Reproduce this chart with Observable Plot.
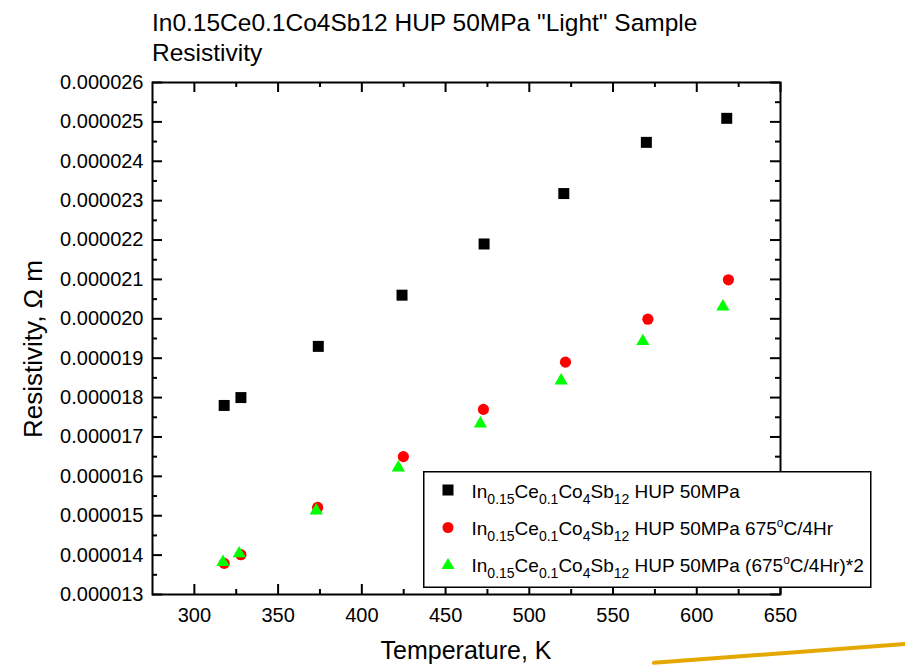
<!DOCTYPE html>
<html><head><meta charset="utf-8">
<script src="https://cdn.jsdelivr.net/npm/d3@7"></script>
<script src="https://cdn.jsdelivr.net/npm/@observablehq/plot@0.6"></script>
<style>
html,body{margin:0;padding:0;background:#fff;}
body{font-family:"Liberation Sans",Arial,Helvetica,sans-serif;color:#000;}
#wrap{position:relative;width:905px;height:665px;overflow:hidden;background:#fff;}
#chart{position:absolute;left:0;top:0;}
#title{position:absolute;left:152px;top:8px;font-size:24.5px;line-height:30px;white-space:nowrap;}
#xlabel{position:absolute;left:0;width:932px;text-align:center;top:636px;font-size:25px;line-height:28px;white-space:nowrap;}
#ylabel{position:absolute;left:33px;top:349px;font-size:26px;line-height:28px;white-space:nowrap;transform:translate(-50%,-50%) rotate(-90deg);}
#legend{position:absolute;left:423px;top:471px;}
#streak{position:absolute;left:652px;top:661px;width:256px;height:4px;background:#e5a800;transform-origin:0 50%;transform:rotate(-4.3deg);border-radius:2px;}
</style>
</head>
<body>
<div id="wrap">
  <div id="chart"></div>
  <div id="title">In0.15Ce0.1Co4Sb12 HUP 50MPa "Light" Sample<br>Resistivity</div>
  <div id="xlabel">Temperature, K</div>
  <div id="ylabel">Resistivity, Ω m</div>
  <svg id="legend" width="450" height="118" xmlns="http://www.w3.org/2000/svg" font-family="Liberation Sans, Arial, sans-serif" font-size="19">
    <rect x="0.75" y="0.75" width="447" height="115.5" fill="#fff" stroke="#000" stroke-width="1.5"/>
    <rect x="19.5" y="13.5" width="11" height="11" fill="#000"/>
    <circle cx="25" cy="56.5" r="5.5" fill="#ff0000"/>
    <path d="M25,87 L31.5,98 L18.5,98 Z" fill="#00ff00"/>
    <g id="legtext"></g>
  </svg>
  <div id="streak"></div>
</div>
<script>
// ---- data ----
const series = [
  "In0.15Ce0.1Co4Sb12 HUP 50MPa",
  "In0.15Ce0.1Co4Sb12 HUP 50MPa 675°C/4Hr",
  "In0.15Ce0.1Co4Sb12 HUP 50MPa (675°C/4Hr)*2"
];
const tempA = [317.8, 327.8, 374.0, 424.0, 473.0, 520.6, 569.9, 617.9];
const resA  = [1.780e-5, 1.800e-5, 1.930e-5, 2.060e-5, 2.190e-5, 2.318e-5, 2.448e-5, 2.509e-5];
const tempB = [317.8, 327.8, 373.6, 424.8, 472.6, 521.6, 570.8, 618.9];
const resB  = [1.379e-5, 1.401e-5, 1.521e-5, 1.650e-5, 1.770e-5, 1.890e-5, 1.999e-5, 2.099e-5];
const tempC = [317.1, 326.8, 372.8, 421.8, 470.8, 519.0, 567.8, 615.6];
const resC  = [1.382e-5, 1.404e-5, 1.513e-5, 1.622e-5, 1.734e-5, 1.843e-5, 1.943e-5, 2.031e-5];
const xTicks = [300, 350, 400, 450, 500, 550, 600, 650];
const xMinor = [325, 375, 425, 475, 525, 575, 625];
const yTicks = [1.3e-5, 1.4e-5, 1.5e-5, 1.6e-5, 1.7e-5, 1.8e-5, 1.9e-5, 2.0e-5, 2.1e-5, 2.2e-5, 2.3e-5, 2.4e-5, 2.5e-5, 2.6e-5];
const yMinor = [1.35e-5, 1.45e-5, 1.55e-5, 1.65e-5, 1.75e-5, 1.85e-5, 1.95e-5, 2.05e-5, 2.15e-5, 2.25e-5, 2.35e-5, 2.45e-5, 2.55e-5];

const dataA = tempA.map((t, i) => ({t, r: resA[i]}));
const dataB = tempB.map((t, i) => ({t, r: resB[i]}));
const dataC = tempC.map((t, i) => ({t, r: resC[i]}));

const W = 905, H = 665, mL = 152, mR = 125, mT = 82, mB = 71;
const iW = W - mL - mR, iH = H - mT - mB;
const big = 10, small = 5;

const chart = Plot.plot({
  width: W, height: H,
  marginLeft: mL, marginRight: mR, marginTop: mT, marginBottom: mB,
  x: {domain: [275, 650]},
  y: {domain: [1.3e-5, 2.6e-5]},
  style: {fontFamily: "'Liberation Sans', Arial, sans-serif", fontSize: "20px", color: "#000", background: "transparent"},
  marks: [
    Plot.tickX(xTicks, {x: d => d, insetTop: iH - big, stroke: "#000", strokeWidth: 2}),
    Plot.tickX(xMinor, {x: d => d, insetTop: iH - small, stroke: "#000", strokeWidth: 2}),
    Plot.tickX(xTicks, {x: d => d, insetBottom: iH - big, stroke: "#000", strokeWidth: 2}),
    Plot.tickX(xMinor, {x: d => d, insetBottom: iH - small, stroke: "#000", strokeWidth: 2}),
    Plot.tickY(yTicks, {y: d => d, insetRight: iW - big, stroke: "#000", strokeWidth: 2}),
    Plot.tickY(yMinor, {y: d => d, insetRight: iW - small, stroke: "#000", strokeWidth: 2}),
    Plot.tickY(yTicks, {y: d => d, insetLeft: iW - big, stroke: "#000", strokeWidth: 2}),
    Plot.tickY(yMinor, {y: d => d, insetLeft: iW - small, stroke: "#000", strokeWidth: 2}),
    Plot.frame({stroke: "#000", strokeWidth: 2}),
    Plot.axisX(xTicks, {tickSize: 0, tickPadding: 13, label: null, tickFormat: d => String(d)}),
    Plot.axisY(yTicks, {tickSize: 0, tickPadding: 9, label: null, tickFormat: d => d.toFixed(6)}),
    Plot.dot(dataA, {x: "t", y: "r", symbol: "square", r: 6.2, fill: "#000000", stroke: "none"}),
    Plot.dot(dataB, {x: "t", y: "r", symbol: "circle", r: 5.6, fill: "#ff0000", stroke: "none"}),
    Plot.dot(dataC, {x: "t", y: "r", symbol: "triangle", r: 4.9, fill: "#00ff00", stroke: "none"})
  ]
});
document.getElementById("chart").appendChild(chart);

// legend text with sub/superscripts
const ns = "http://www.w3.org/2000/svg";
const g = document.getElementById("legtext");
const baselines = [27, 64, 101];
function addRow(y, tail) {
  const t = document.createElementNS(ns, "text");
  t.setAttribute("x", 48.5);
  t.setAttribute("y", y);
  const parts = [["In",0],["0.15",1],["Ce",0],["0.1",1],["Co",0],["4",1],["Sb",0],["12",1]].concat(tail);
  let state = 0;
  for (const [txt, kind] of parts) {
    const s = document.createElementNS(ns, "tspan");
    s.textContent = txt;
    const target = kind === 1 ? 6 : kind === 2 ? -8 : 0;
    s.setAttribute("dy", target - state);
    state = target;
    if (kind) s.setAttribute("font-size", kind === 1 ? 14 : 12);
    t.appendChild(s);
  }
  g.appendChild(t);
}
addRow(baselines[0], [["\u00a0HUP 50MPa",0]]);
addRow(baselines[1], [["\u00a0HUP 50MPa 675",0],["o",2],["C/4Hr",0]]);
addRow(baselines[2], [["\u00a0HUP 50MPa (675",0],["o",2],["C/4Hr)*2",0]]);
</script>
</body></html>
